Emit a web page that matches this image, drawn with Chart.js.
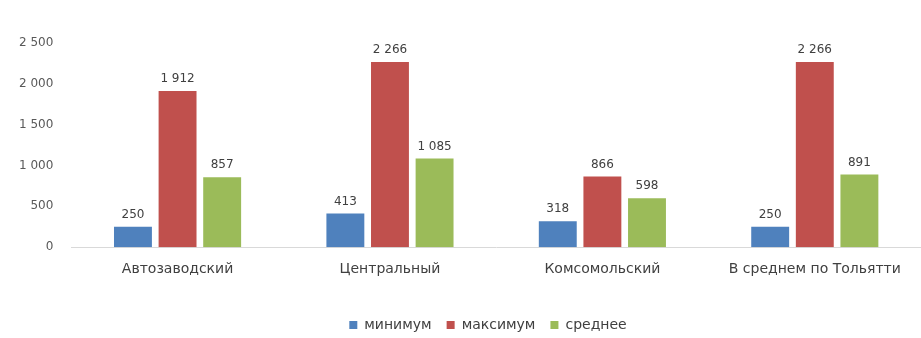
<!DOCTYPE html>
<html>
<head>
<meta charset="utf-8">
<script src="https://cdn.jsdelivr.net/npm/chart.js@4"></script>
<style>
  html, body { margin: 0; padding: 0; background: #fff; }
  #wrap { width: 921px; height: 338px; }
</style>
</head>
<body>
<div id="wrap"><canvas id="grafico"></canvas></div>
<script>
const categorias = ['Автозаводский', 'Центральный', 'Комсомольский', 'В среднем по Тольятти'];
const minimo = [250, 413, 318, 250];
const maximo = [1912, 2266, 866, 2266];
const media = [857, 1085, 598, 891];
const ticksY = [0, 500, 1000, 1500, 2000, 2500];

function formatar(v) {
    return String(v).replace(/\B(?=(\d{3})+(?!\d))/g, ' ');
}

// rotulos acima das barras
const rotulos = {
    id: 'rotulos',
    afterLayout(chart) {
        // legenda um pouco deslocada, como no original
        chart.legend.left += 23;
        chart.legend.right += 23;
        chart.legend.top += 4;
        chart.legend.bottom += 4;
    },
    afterDatasetsDraw(chart) {
        const ctx = chart.ctx;
        ctx.save();
        ctx.font = '12px "DejaVu Sans", sans-serif';
        ctx.fillStyle = '#404040';
        ctx.textAlign = 'center';
        ctx.textBaseline = 'bottom';
        chart.data.datasets.forEach((ds, i) => {
            chart.getDatasetMeta(i).data.forEach((bar, j) => {
                ctx.fillText(formatar(ds.data[j]), bar.x, bar.y - 6);
            });
        });
        ctx.restore();
    }
};

const ctx = document.getElementById('grafico').getContext('2d');
const myChart = new Chart(ctx, {
    type: 'bar',
    data: {
        labels: categorias,
        datasets: [
            { label: 'минимум', data: minimo, backgroundColor: '#4F81BD' },
            { label: 'максимум', data: maximo, backgroundColor: '#C0504D' },
            { label: 'среднее', data: media, backgroundColor: '#9BBB59' }
        ]
    },
    options: {
        responsive: true,
        maintainAspectRatio: false,
        animation: false,
        layout: { padding: { top: 43, right: 0, left: 9, bottom: 0 } },
        datasets: { bar: { categoryPercentage: 0.63, barPercentage: 0.85 } },
        scales: {
            x: {
                grid: { display: false },
                border: { color: '#d9d9d9' },
                ticks: { color: '#404040', font: { family: 'DejaVu Sans', size: 14 }, padding: 6 }
            },
            y: {
                min: 0,
                max: 2500,
                afterBuildTicks(axis) { axis.ticks = ticksY.map(v => ({ value: v })); },
                grid: { display: false },
                border: { display: false },
                ticks: {
                    color: '#595959',
                    font: { family: 'DejaVu Sans', size: 12 },
                    padding: 10,
                    callback: v => formatar(v)
                }
            }
        },
        plugins: {
            legend: {
                position: 'bottom',
                title: { display: true, text: '', font: { size: 10 }, padding: { top: 2, bottom: 1 } },
                labels: {
                    boxWidth: 8,
                    boxHeight: 8,
                    color: '#404040',
                    font: { family: 'DejaVu Sans', size: 14 },
                    padding: 15
                }
            },
            tooltip: { enabled: false }
        }
    },
    plugins: [rotulos]
});
window.myChart = myChart;
</script>
</body>
</html>
